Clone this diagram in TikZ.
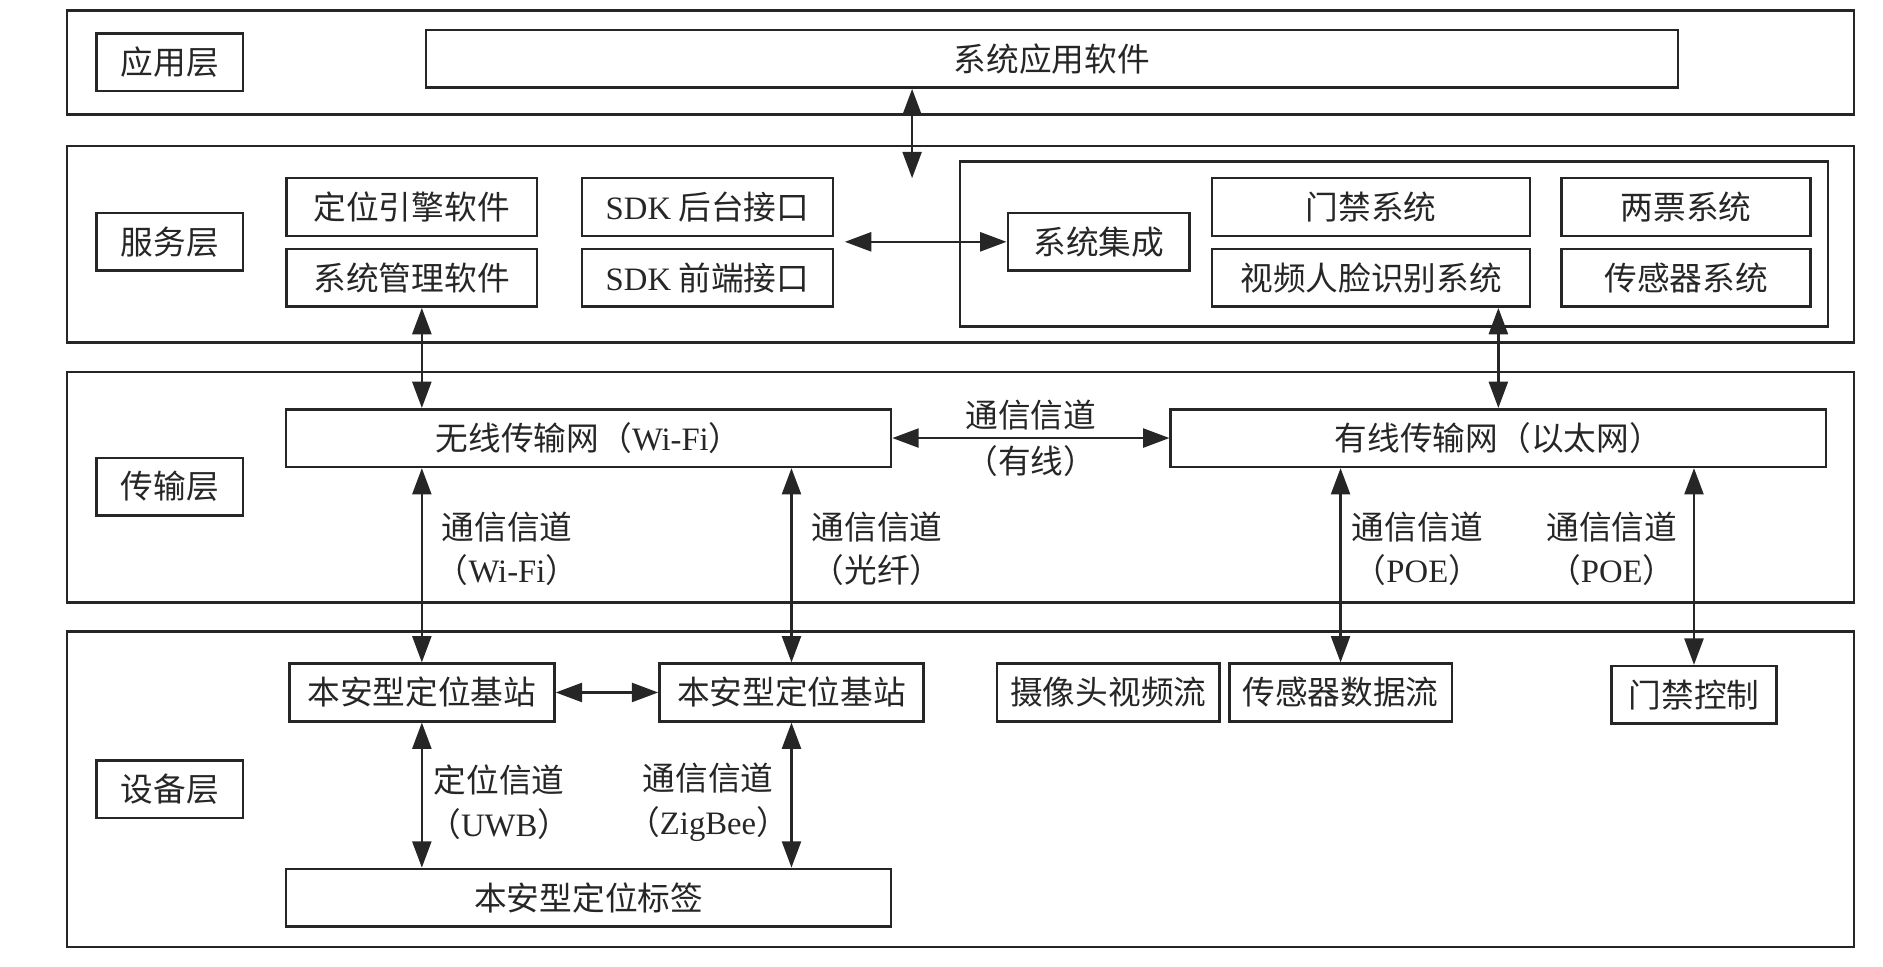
\documentclass[tikz,border=0pt]{standalone}
\usepackage{fontspec}
\setmainfont{Liberation Serif}
\newfontfamily\cjk{Noto Sans CJK SC}
\usepackage{tikz}
\usetikzlibrary{positioning, arrows.meta}

\begin{document}
\begin{tikzpicture}[
    every node/.style={text=black!85},
    layer/.style={draw=black!85, line width=1.2pt, minimum width=29.78cm},
    box/.style={draw=black!85, line width=1.2pt, minimum height=0.96cm, inner sep=0pt, font={\cjk\fontsize{15.5}{20.5}\selectfont}},
    tag/.style={box, minimum width=2.44cm},
    chan/.style={align=center, inner sep=1pt, font={\cjk\fontsize{15.5}{20.5}\selectfont}},
    arr/.style={{Triangle[length=12.5pt, width=9pt]}-{Triangle[length=12.5pt, width=9pt]}, line width=1.2pt, draw=black!85},
]
\useasboundingbox (0,0) rectangle (31.38,-16.11);

% --- layers ---
\node[layer, minimum height=1.73cm] (Lapp) at (16.01,-1.04) {};
\node[layer, minimum height=3.27cm] (Lsvc) at (16.01,-4.07) {};
\node[layer, minimum height=3.84cm] (Ltr) at (16.01,-8.12) {};
\node[layer, minimum height=5.26cm] (Ldev) at (16.01,-13.15) {};

\node[tag] (Tapp) at (2.83,-1.04) {应用层};
\node[tag] (Tsvc) at (2.83,-4.03) {服务层};
\node[tag] (Ttr) at (2.83,-8.11) {传输层};
\node[tag] (Tdev) at (2.83,-13.15) {设备层};

% --- application layer ---
\node[box, minimum width=20.86cm] (App) at (17.53,-0.98) {系统应用软件};

% --- service layer ---
\node[box, minimum width=4.18cm] (Eng) at (6.86,-3.45) {定位引擎软件};
\node[box, minimum width=4.18cm] (Mgt) at (6.86,-4.63) {系统管理软件};
\node[box, minimum width=4.18cm] (SDKb) at (11.79,-3.45) {{\rmfamily SDK} 后台接口};
\node[box, minimum width=4.18cm] (SDKf) at (11.79,-4.63) {{\rmfamily SDK} 前端接口};

\node[layer, minimum width=14.47cm, minimum height=2.75cm] (Grp) at (23.23,-4.07) {};
\node[box, minimum width=3.03cm] (Int) at (18.31,-4.03) {系统集成};
\node[box, minimum width=5.30cm] (Door) at (22.85,-3.45) {门禁系统};
\node[box, minimum width=5.30cm] (Face) at (22.85,-4.63) {视频人脸识别系统};
\node[box, minimum width=4.15cm] (Tkt) at (28.10,-3.45) {两票系统};
\node[box, minimum width=4.15cm] (Sen) at (28.10,-4.63) {传感器系统};

% --- transport layer ---
\node[box, minimum width=10.08cm] (Wl) at (9.81,-7.30) {无线传输网（{\rmfamily Wi-Fi}）};
\node[box, minimum width=10.92cm] (Wd) at (24.97,-7.30) {有线传输网（以太网）};

\node[chan] (C1) at (8.45,-9.14) {通信信道\\（{\rmfamily Wi-Fi}）};
\node[chan] (C2) at (14.62,-9.14) {通信信道\\（光纤）};
\node[chan] (C3) at (23.62,-9.14) {通信信道\\（{\rmfamily POE}）};
\node[chan] (C4) at (26.86,-9.14) {通信信道\\（{\rmfamily POE}）};

% --- device layer ---
\node[box, minimum width=4.42cm] (B1) at (7.03,-11.54) {本安型定位基站};
\node[box, minimum width=4.40cm] (B2) at (13.19,-11.54) {本安型定位基站};
\node[box, minimum width=10.08cm] (Tag) at (9.81,-14.96) {本安型定位标签};
\node[box, minimum width=3.71cm] (Cam) at (18.47,-11.54) {摄像头视频流};
\node[box, minimum width=3.71cm] (SData) at (22.34,-11.54) {传感器数据流};
\node[box, minimum width=2.75cm] (DCtl) at (28.23,-11.58) {门禁控制};

\node[chan] (C5) at (8.32,-13.37) {定位信道\\（{\rmfamily UWB}）};
\node[chan] (C6) at (11.80,-13.37) {通信信道\\（{\rmfamily ZigBee}）};

% --- arrows between layers ---
\coordinate (Sv) at (15.2,-2.97);
\draw[arr] (App.south -| Sv) -- (Sv);
\coordinate (Sk) at (14.08,-4.03);
\draw[arr] (Sk) -- (Int.west);
\draw[arr] (Mgt.south -| B1) -- (Wl.north -| B1);
\draw[arr] (Face.south -| Wd) -- (Wd.north);
\draw[arr] (Wl.east) -- node[chan, above, inner sep=3pt] (H1) {通信信道} node[chan, below, inner sep=3pt] (H2) {（有线）} (Wd.west);

\draw[arr] (Wl.south -| B1) -- (B1.north);
\draw[arr] (Wl.south -| B2) -- (B2.north);
\draw[arr] (Wd.south -| SData) -- (SData.north);
\draw[arr] (Wd.south -| DCtl) -- (DCtl.north);

\draw[arr] (B1.east) -- (B2.west);
\draw[arr] (B1.south) -- (Tag.north -| B1);
\draw[arr] (B2.south) -- (Tag.north -| B2);

\end{tikzpicture}
\end{document}
